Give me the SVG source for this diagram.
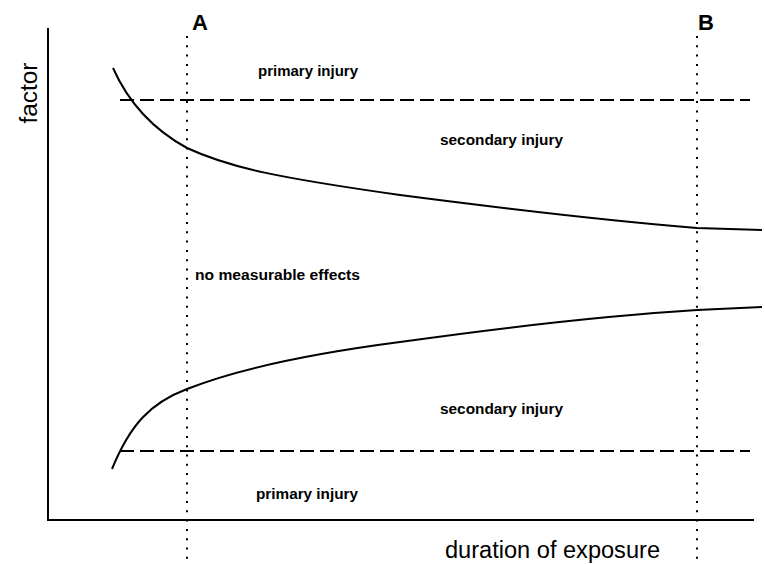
<svg xmlns="http://www.w3.org/2000/svg" width="765" height="564" viewBox="0 0 765 564">
<style>
.axis{stroke:#000;stroke-width:2;fill:none}
.curve{stroke:#000;stroke-width:2;fill:none}
.dash{stroke:#000;stroke-width:2;stroke-dasharray:14 6;fill:none}
.dot{stroke:#000;stroke-width:2;stroke-dasharray:2 7.3;fill:none}
.lbl{font-family:"Liberation Sans",Arial,sans-serif;font-size:14px;font-weight:bold;fill:#000}
.big{font-family:"Liberation Sans",Arial,sans-serif;font-size:23px;fill:#000}
.mark{font-family:"Liberation Sans",Arial,sans-serif;font-size:22px;font-weight:bold;fill:#000}
</style>
<rect width="765" height="564" fill="#fff"/>
<g id="connectors">
<path class="axis" d="M48 28 V520 H754"/>
<path class="dot" d="M187 36 V564"/>
<path class="dot" d="M697 36 V564"/>
<path class="dash" d="M120 100 H750"/>
<path class="dash" d="M120 451 H750"/>
<path class="curve" d="M113 68 C125 95 145 125 187 148 C230 168 280 178 400 195 C500 208 600 220 697 228 L762 230"/>
<path class="curve" d="M112 469 C130 425 150 403 187 389 C230 372 300 355 400 342 C500 328 600 316 697 310 L762 307"/>
</g>
<g id="label-A"><text class="mark" x="192" y="30">A</text></g>
<g id="label-B"><text class="mark" x="698" y="30">B</text></g>
<g id="y-label"><text class="big" transform="translate(37,93) rotate(-90)" text-anchor="middle" textLength="61" lengthAdjust="spacingAndGlyphs">factor</text></g>
<g id="x-label"><text class="big" x="445" y="558" textLength="215" lengthAdjust="spacingAndGlyphs">duration of exposure</text></g>
<g id="primary-top"><text class="lbl" x="258" y="76" textLength="100" lengthAdjust="spacingAndGlyphs">primary injury</text></g>
<g id="secondary-top"><text class="lbl" x="440" y="145" textLength="123" lengthAdjust="spacingAndGlyphs">secondary injury</text></g>
<g id="no-effects"><text class="lbl" x="195" y="280" textLength="165" lengthAdjust="spacingAndGlyphs">no measurable effects</text></g>
<g id="secondary-bottom"><text class="lbl" x="440" y="414" textLength="123" lengthAdjust="spacingAndGlyphs">secondary injury</text></g>
<g id="primary-bottom"><text class="lbl" x="256" y="499" textLength="102" lengthAdjust="spacingAndGlyphs">primary injury</text></g>
</svg>
